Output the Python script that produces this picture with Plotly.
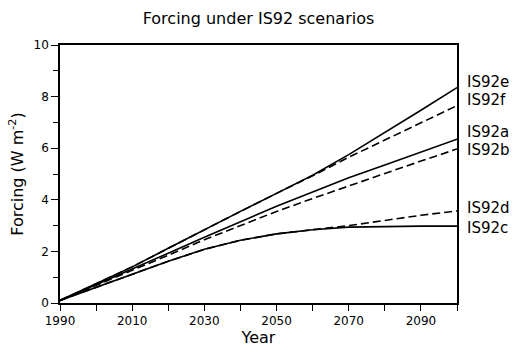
import plotly.graph_objects as go

years = [1990, 2000, 2010, 2020, 2030, 2040, 2050, 2060, 2070, 2080, 2090, 2100]
is92e = [0.1, 0.75, 1.4, 2.12, 2.85, 3.55, 4.25, 4.95, 5.75, 6.6, 7.47, 8.35]
is92f = [0.1, 0.75, 1.4, 2.12, 2.85, 3.55, 4.25, 4.93, 5.65, 6.32, 7.0, 7.65]
is92a = [0.1, 0.7, 1.3, 1.93, 2.55, 3.15, 3.75, 4.3, 4.85, 5.35, 5.85, 6.35]
is92b = [0.1, 0.68, 1.25, 1.85, 2.45, 3.0, 3.55, 4.05, 4.55, 5.02, 5.5, 5.97]
is92d = [0.1, 0.6, 1.12, 1.62, 2.08, 2.43, 2.68, 2.84, 3.0, 3.2, 3.4, 3.57]
is92c = [0.1, 0.6, 1.12, 1.62, 2.08, 2.43, 2.68, 2.84, 2.94, 2.97, 2.98, 2.98]

series = [
    ("IS92e", is92e, "solid", 6),
    ("IS92f", is92f, "dash", 6),
    ("IS92a", is92a, "solid", 7),
    ("IS92b", is92b, "dash", -1),
    ("IS92d", is92d, "dash", 3),
    ("IS92c", is92c, "solid", -2),
]

x_tickvals = [1990, 2010, 2030, 2050, 2070, 2090]
y_tickvals = [0, 2, 4, 6, 8, 10]

font = "DejaVu Sans, Liberation Sans, sans-serif"
fig = go.Figure()
for name, vals, dash, yshift in series:
    fig.add_trace(go.Scatter(
        x=years, y=vals, mode="lines", name=name,
        line=dict(color="black", width=1.6, dash="8px,4px" if dash == "dash" else "solid"),
        showlegend=False,
    ))
    fig.add_annotation(
        x=years[-1], y=vals[-1], text=name, xref="x", yref="y",
        xanchor="left", yanchor="middle", showarrow=False,
        xshift=8, yshift=yshift, font=dict(size=15, color="black", family=font),
    )

fig.update_layout(
    width=517, height=353,
    margin=dict(l=60, r=60, t=45, b=41),
    plot_bgcolor="white", paper_bgcolor="white",
    font=dict(family=font, color="black", size=12),
    title=dict(text="Forcing under IS92 scenarios", x=0.5, xanchor="center",
               y=0.949, yanchor="middle", font=dict(size=16, family=font)),
)
fig.update_xaxes(
    range=[1990, 2100], tickvals=x_tickvals, ticks="outside", ticklen=6,
    tickwidth=1.3, tickcolor="black",
    minor=dict(dtick=10, tick0=1990, ticks="outside", ticklen=6, tickcolor="black", tickwidth=1.3),
    showline=True, linecolor="black", linewidth=1.6, mirror=True,
    showgrid=False, zeroline=False,
    title=dict(text="Year", font=dict(size=16, family=font), standoff=2),
    tickfont=dict(size=12),
)
fig.update_yaxes(
    range=[0, 10], tickvals=y_tickvals, ticks="outside", ticklen=7,
    tickwidth=1.3, tickcolor="black",
    minor=dict(dtick=1, tick0=0, ticks="outside", ticklen=5, tickcolor="black", tickwidth=1.3),
    showline=True, linecolor="black", linewidth=1.6, mirror=True,
    showgrid=False, zeroline=False,
    title=dict(text="Forcing (W m<sup>-2</sup>)", font=dict(size=16, family=font), standoff=6),
    tickfont=dict(size=12),
)

fig.write_html(
    "out.html",
    config={"displayModeBar": False},
    post_script="document.body.style.margin='0';document.body.style.padding='0';",
)
